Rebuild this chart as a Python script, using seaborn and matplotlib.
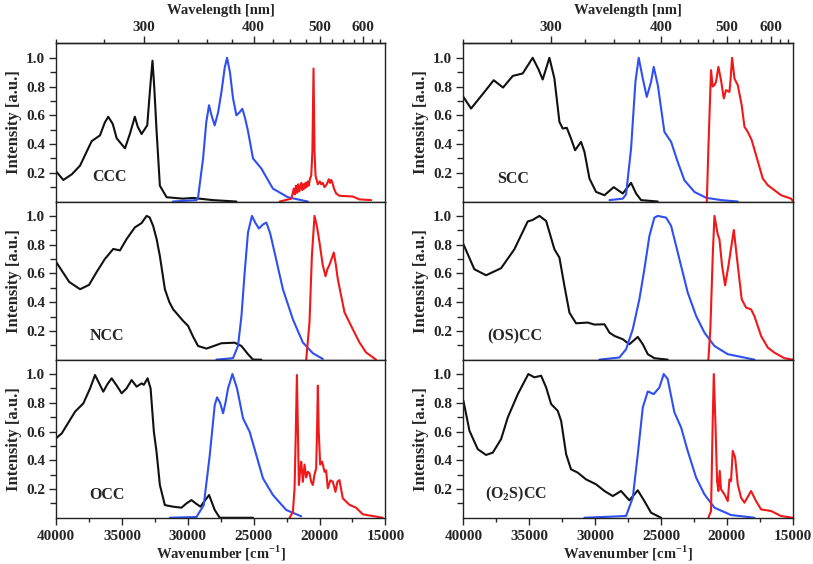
import numpy as np
import matplotlib
matplotlib.use("Agg")
import matplotlib.pyplot as plt
from matplotlib.ticker import FixedLocator, MultipleLocator, FormatStrFormatter
import seaborn as sns

# absorption (black), excitation (blue), emission (red); x in cm-1
ccc_abs_x = [40000, 39450, 38800, 38180, 37300, 36670, 36300, 36040, 35700, 35400, 34770, 34400, 34020, 33800, 33510, 33080, 32850, 32680, 32550, 32370, 32120, 31610, 30360, 29620, 28110, 26310]
ccc_abs_y = [0.21, 0.15, 0.19, 0.25, 0.42, 0.46, 0.55, 0.59, 0.54, 0.44, 0.37, 0.47, 0.59, 0.52, 0.47, 0.53, 0.80, 0.98, 0.80, 0.49, 0.11, 0.03, 0.02, 0.025, 0.01, 0.0]
ccc_exc_x = [31140, 29340, 29220, 28840, 28600, 28390, 28200, 27960, 27700, 27450, 27200, 27020, 26800, 26570, 26310, 26080, 25860, 25650, 25430, 25050, 24420, 23540, 22400, 20890]
ccc_exc_y = [0.0, 0.01, 0.03, 0.30, 0.55, 0.67, 0.60, 0.53, 0.62, 0.76, 0.93, 1.0, 0.90, 0.72, 0.60, 0.62, 0.645, 0.58, 0.49, 0.30, 0.23, 0.09, 0.03, 0.0]
ccc_em_x = [23030, 22140, 22030, 21950, 21870, 21790, 21700, 21620, 21540, 21460, 21380, 21300, 21220, 21140, 21060, 20980, 20900, 20820, 20720, 20630, 20540, 20455, 20380, 20303, 20128, 19980, 19873, 19760, 19621, 19450, 19296, 19200, 19120, 19040, 18900, 18737, 18485, 17475, 16970, 16080]
ccc_em_y = [0.0, 0.02, 0.06, 0.09, 0.05, 0.11, 0.06, 0.12, 0.07, 0.10, 0.13, 0.08, 0.12, 0.09, 0.13, 0.10, 0.14, 0.11, 0.16, 0.18, 0.35, 0.925, 0.35, 0.18, 0.12, 0.14, 0.12, 0.13, 0.10, 0.12, 0.155, 0.13, 0.15, 0.137, 0.09, 0.056, 0.04, 0.035, 0.015, 0.01]

ncc_abs_x = [40000, 39000, 38180, 37500, 36920, 36300, 35660, 35150, 34640, 34020, 33510, 33130, 32900, 32630, 32370, 32120, 31740, 31400, 31110, 30360, 29980, 29600, 29220, 28580, 27450, 26440, 25930, 25430, 25050, 24420]
ncc_abs_y = [0.68, 0.54, 0.49, 0.52, 0.61, 0.70, 0.77, 0.76, 0.84, 0.92, 0.95, 1.0, 0.99, 0.93, 0.84, 0.72, 0.49, 0.40, 0.35, 0.27, 0.235, 0.16, 0.095, 0.077, 0.114, 0.118, 0.095, 0.038, 0.0, 0.0]
ncc_exc_x = [27830, 26570, 26190, 25930, 25680, 25430, 25130, 24860, 24600, 24300, 24040, 23750, 23410, 22780, 22020, 21270, 20510, 19750]
ncc_exc_y = [0.0, 0.01, 0.095, 0.30, 0.61, 0.885, 1.0, 0.95, 0.912, 0.94, 0.954, 0.88, 0.745, 0.49, 0.28, 0.12, 0.045, 0.005]
ncc_em_x = [21010, 20760, 20580, 20380, 20200, 20000, 19760, 19545, 19400, 19242, 18914, 18760, 18611, 18106, 17601, 16970, 16465, 15707]
ncc_em_y = [0.0, 0.26, 0.72, 1.0, 0.93, 0.815, 0.66, 0.58, 0.63, 0.66, 0.745, 0.66, 0.56, 0.33, 0.235, 0.12, 0.05, 0.0]

occ_abs_x = [40000, 39570, 38560, 37930, 37420, 37045, 36700, 36417, 36100, 35780, 35400, 35023, 34650, 34265, 33886, 33508, 33340, 33053, 32826, 32576, 32374, 32121, 31742, 31112, 30480, 30100, 29722, 29400, 29040, 28700, 28384, 27955, 27576, 25053]
occ_abs_y = [0.553, 0.587, 0.738, 0.796, 0.90, 0.993, 0.93, 0.877, 0.93, 0.97, 0.92, 0.866, 0.90, 0.958, 0.912, 0.935, 0.925, 0.97, 0.90, 0.598, 0.459, 0.228, 0.088, 0.077, 0.07, 0.10, 0.123, 0.10, 0.077, 0.12, 0.158, 0.054, 0.0, 0.0]
occ_exc_x = [31364, 29345, 28788, 28333, 27955, 27778, 27550, 27323, 27140, 26944, 26613, 26263, 25808, 25303, 24798, 24293, 23535, 22525, 21388]
occ_exc_y = [0.0, 0.005, 0.088, 0.436, 0.784, 0.838, 0.80, 0.727, 0.80, 0.90, 1.0, 0.90, 0.692, 0.598, 0.436, 0.274, 0.158, 0.054, 0.01]
occ_em_x = [22273, 22020, 21894, 21800, 21717, 21640, 21565, 21480, 21388, 21263, 21136, 21010, 20880, 20758, 20630, 20505, 20380, 20253, 20190, 20126, 20060, 19949, 19798, 19621, 19500, 19369, 19180, 18990, 18788, 18640, 18485, 18232, 17727, 17222, 16717, 15202]
occ_em_y = [0.0, 0.04, 0.205, 0.60, 0.993, 0.60, 0.228, 0.32, 0.39, 0.25, 0.37, 0.28, 0.32, 0.309, 0.25, 0.228, 0.30, 0.344, 0.60, 0.919, 0.60, 0.37, 0.39, 0.32, 0.33, 0.205, 0.26, 0.251, 0.18, 0.25, 0.262, 0.135, 0.09, 0.07, 0.024, 0.0]

scc_abs_x = [40000, 39420, 38400, 37700, 36990, 36250, 35500, 34740, 34300, 33980, 33470, 33090, 32710, 32460, 32150, 31830, 31520, 31070, 30810, 30430, 29930, 29290, 28590, 27900, 27270, 26890, 26510, 25240]
scc_abs_y = [0.728, 0.647, 0.763, 0.844, 0.793, 0.874, 0.891, 1.0, 0.92, 0.849, 1.0, 0.856, 0.554, 0.508, 0.513, 0.438, 0.357, 0.415, 0.346, 0.16, 0.067, 0.044, 0.10, 0.056, 0.13, 0.056, 0.01, 0.0]
scc_exc_x = [28910, 27900, 27650, 27270, 26940, 26690, 26380, 26080, 25750, 25550, 25240, 24740, 24230, 23730, 23220, 22460, 21570, 20440, 19170]
scc_exc_y = [0.01, 0.02, 0.05, 0.369, 0.833, 1.0, 0.856, 0.728, 0.833, 0.937, 0.81, 0.485, 0.415, 0.276, 0.148, 0.067, 0.026, 0.01, 0.0]
scc_em_x = [21520, 21400, 21200, 21070, 20940, 20820, 20640, 20440, 20230, 20060, 19800, 19730, 19600, 19420, 19170, 18870, 18660, 18410, 18110, 17780, 17270, 16890, 16390, 15880, 15120, 15000]
scc_em_y = [0.0, 0.369, 0.914, 0.80, 0.81, 0.833, 0.937, 0.844, 0.717, 0.775, 0.763, 0.833, 1.0, 0.856, 0.81, 0.67, 0.52, 0.485, 0.427, 0.322, 0.16, 0.114, 0.079, 0.044, 0.02, 0.005]

oscc_abs_x = [40000, 39170, 38280, 37140, 36130, 35120, 34740, 34230, 33720, 33090, 32710, 32330, 31950, 31450, 30560, 30050, 29290, 28910, 28530, 27900, 27400, 26760, 26380, 26000, 25500, 24490]
oscc_abs_y = [0.803, 0.629, 0.587, 0.636, 0.768, 0.961, 0.972, 1.0, 0.965, 0.768, 0.71, 0.513, 0.327, 0.253, 0.258, 0.244, 0.246, 0.188, 0.165, 0.142, 0.107, 0.158, 0.107, 0.038, 0.01, 0.0]
oscc_exc_x = [29670, 28160, 27650, 27140, 26640, 26260, 25880, 25500, 25240, 24610, 24230, 23470, 22970, 22330, 21700, 20940, 19930, 17910]
oscc_exc_y = [0.0, 0.015, 0.072, 0.212, 0.42, 0.629, 0.86, 0.988, 1.0, 0.988, 0.931, 0.652, 0.467, 0.304, 0.188, 0.095, 0.038, 0.0]
oscc_em_x = [21400, 21250, 21070, 20940, 20690, 20560, 20360, 20130, 19880, 19470, 19220, 18870, 18540, 18160, 17910, 17400, 16890, 16390, 15630, 15000]
oscc_em_y = [0.0, 0.212, 0.722, 1.0, 0.872, 0.837, 0.652, 0.517, 0.652, 0.902, 0.698, 0.42, 0.362, 0.35, 0.304, 0.165, 0.084, 0.049, 0.01, 0.0]

o2scc_abs_x = [40000, 39540, 38910, 38280, 37770, 37140, 36630, 35870, 35070, 34610, 34100, 33720, 33340, 32840, 32580, 32200, 31830, 31320, 30690, 29930, 29290, 28660, 28030, 27400, 26760, 26260, 25750, 24990]
o2scc_abs_y = [0.814, 0.605, 0.477, 0.437, 0.453, 0.547, 0.698, 0.86, 1.0, 0.977, 0.988, 0.907, 0.791, 0.744, 0.674, 0.442, 0.337, 0.314, 0.267, 0.233, 0.186, 0.151, 0.186, 0.121, 0.191, 0.116, 0.035, 0.0]
o2scc_exc_x = [30810, 27650, 27140, 26760, 26380, 26000, 25550, 25120, 24790, 24490, 23980, 23470, 22970, 22330, 21700, 20940, 19680, 17910]
o2scc_exc_y = [0.0, 0.012, 0.14, 0.442, 0.767, 0.879, 0.86, 0.907, 1.0, 0.965, 0.733, 0.628, 0.465, 0.279, 0.163, 0.07, 0.019, 0.0]
o2scc_em_x = [21400, 21200, 21070, 20990, 20870, 20740, 20640, 20540, 20440, 20180, 19930, 19800, 19680, 19550, 19370, 19170, 18920, 18660, 18160, 17780, 17400, 16640, 15880, 15000]
o2scc_em_y = [0.0, 0.047, 0.674, 1.0, 0.674, 0.256, 0.186, 0.326, 0.198, 0.163, 0.116, 0.267, 0.256, 0.465, 0.419, 0.233, 0.14, 0.105, 0.186, 0.116, 0.058, 0.047, 0.012, 0.0]

names = ["CCC", "SCC", "NCC", "(OS)CC", "OCC", "(O$_{\\mathbf{2}}$S)CC"]
label_pos = [(37250, 0.17), (37450, 0.16), (37420, 0.165), (38200, 0.16), (37480, 0.157), (38350, 0.163)]

sns.set_style("ticks")
plt.rcParams["font.family"] = ["Liberation Serif", "DejaVu Serif"]
plt.rcParams["font.weight"] = "bold"
plt.rcParams["mathtext.fontset"] = "custom"
plt.rcParams["mathtext.rm"] = "Liberation Serif:bold"
plt.rcParams["mathtext.bf"] = "Liberation Serif:bold"
plt.rcParams["axes.linewidth"] = 1.0

black, blue, red = "#111111", "#2f4ff0", "#f01818"

fig, axes = plt.subplots(3, 2, figsize=(8.13, 5.64), dpi=100, sharex=True)
fig.subplots_adjust(left=0.069, right=0.975, top=0.923, bottom=0.082, hspace=0, wspace=0.237)

curves = [
    (ccc_abs_x, ccc_abs_y, ccc_exc_x, ccc_exc_y, ccc_em_x, ccc_em_y),
    (scc_abs_x, scc_abs_y, scc_exc_x, scc_exc_y, scc_em_x, scc_em_y),
    (ncc_abs_x, ncc_abs_y, ncc_exc_x, ncc_exc_y, ncc_em_x, ncc_em_y),
    (oscc_abs_x, oscc_abs_y, oscc_exc_x, oscc_exc_y, oscc_em_x, oscc_em_y),
    (occ_abs_x, occ_abs_y, occ_exc_x, occ_exc_y, occ_em_x, occ_em_y),
    (o2scc_abs_x, o2scc_abs_y, o2scc_exc_x, o2scc_exc_y, o2scc_em_x, o2scc_em_y),
]


def wn_to_nm(x):
    x = np.asarray(x, dtype=float)
    with np.errstate(divide="ignore"):
        return np.where(x > 1, 1e7 / np.maximum(x, 1), 1e7)


for i, ax in enumerate(axes.flat):
    ax_x, ax_y, ex_x, ex_y, em_x, em_y = curves[i]
    sns.lineplot(x=ax_x, y=ax_y, ax=ax, color=black, lw=1.5, estimator=None, sort=False)
    sns.lineplot(x=ex_x, y=ex_y, ax=ax, color=blue, lw=1.5, estimator=None, sort=False)
    sns.lineplot(x=em_x, y=em_y, ax=ax, color=red, lw=1.5, estimator=None, sort=False)

    ax.set_xlim(40000, 15000)
    ax.set_ylim(0, 1.1)
    ax.yaxis.set_major_locator(FixedLocator([0.2, 0.4, 0.6, 0.8, 1.0]))
    ax.yaxis.set_minor_locator(FixedLocator([0.1, 0.3, 0.5, 0.7, 0.9]))
    ax.yaxis.set_major_formatter(FormatStrFormatter("%.1f"))
    ax.xaxis.set_major_locator(MultipleLocator(5000))
    ax.xaxis.set_minor_locator(MultipleLocator(2500))
    ax.tick_params(axis="y", which="major", direction="out", length=5, width=1, labelsize=11, pad=3)
    ax.tick_params(axis="y", which="minor", direction="out", length=4, width=1)
    ax.tick_params(axis="x", which="major", direction="out", length=5, width=1, labelsize=11)
    ax.tick_params(axis="x", which="minor", direction="out", length=3, width=1)
    ax.set_ylabel("Intensity [a.u.]", fontsize=12, fontweight="bold", labelpad=3)
    for s in ax.spines.values():
        s.set_visible(True)
        s.set_linewidth(1.0)
        s.set_color("#222222")

    row = i // 2
    if row < 2:
        ax.tick_params(axis="x", which="both", bottom=False, labelbottom=False)
        ax.set_xlabel("")
    else:
        ax.set_xlabel("Wavenumber [cm$^{\\mathbf{-1}}$]", fontsize=10.5, fontweight="bold", labelpad=1)
        for t in ax.get_xticklabels():
            t.set_fontweight("bold")
    for t in ax.get_yticklabels():
        t.set_fontweight("bold")

    lx, ly = label_pos[i]
    ax.text(lx, ly, names[i], fontsize=11.5, fontweight="bold", ha="left", va="center")

    if row == 0:
        sec = ax.secondary_xaxis("top", functions=(wn_to_nm, wn_to_nm))
        sec.xaxis.set_major_locator(FixedLocator([300, 400, 500, 600]))
        sec.xaxis.set_minor_locator(FixedLocator([v for v in range(250, 675, 25) if v % 100 != 0]))
        sec.xaxis.set_major_formatter(FormatStrFormatter("%d"))
        sec.tick_params(which="major", direction="out", length=5, width=1, labelsize=11, pad=2)
        sec.tick_params(which="minor", direction="out", length=3, width=1)
        sec.set_xlabel("Wavelength [nm]", fontsize=10.5, fontweight="bold", labelpad=5)
        for t in sec.get_xticklabels():
            t.set_fontweight("bold")

plt.savefig("out.png", dpi=100)
